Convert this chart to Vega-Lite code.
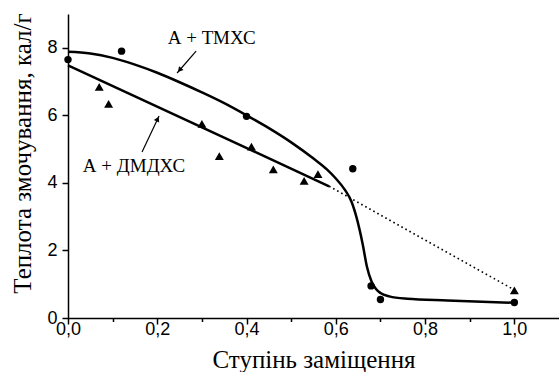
{
  "$schema": "https://vega.github.io/schema/vega-lite/v6.json",
  "width": 491,
  "height": 304,
  "autosize": {"type": "none"},
  "padding": {"left": 68, "top": 14, "right": 0, "bottom": 54},
  "background": "white",
  "config": {
    "view": {"stroke": null},
    "axis": {
      "grid": false,
      "domainColor": "black",
      "domainWidth": 1.5,
      "tickColor": "black",
      "tickWidth": 1.5,
      "labelColor": "black",
      "labelFont": "Liberation Sans, Arial, Helvetica, sans-serif",
      "labelFontSize": 18,
      "titleColor": "black",
      "titleFont": "Liberation Serif, Times New Roman, Times, serif",
      "titleFontSize": 25,
      "titleFontWeight": "normal"
    }
  },
  "datasets": {
    "fitA": [
      {"x": 0.0, "y": 7.88},
      {"x": 0.05, "y": 7.83},
      {"x": 0.1, "y": 7.7},
      {"x": 0.15, "y": 7.5},
      {"x": 0.2, "y": 7.26},
      {"x": 0.25, "y": 6.98},
      {"x": 0.3, "y": 6.68},
      {"x": 0.35, "y": 6.36},
      {"x": 0.4, "y": 6.0},
      {"x": 0.45, "y": 5.62},
      {"x": 0.5, "y": 5.2},
      {"x": 0.55, "y": 4.72},
      {"x": 0.58, "y": 4.4},
      {"x": 0.6, "y": 4.13},
      {"x": 0.62, "y": 3.8},
      {"x": 0.635, "y": 3.45},
      {"x": 0.647, "y": 2.95},
      {"x": 0.66, "y": 2.2},
      {"x": 0.67, "y": 1.5},
      {"x": 0.68, "y": 1.08},
      {"x": 0.69, "y": 0.86},
      {"x": 0.7, "y": 0.74},
      {"x": 0.72, "y": 0.64},
      {"x": 0.76, "y": 0.57},
      {"x": 0.85, "y": 0.52},
      {"x": 1.0, "y": 0.45}
    ],
    "fitB": [
      {"x": 0.0, "y": 7.48},
      {"x": 0.585, "y": 3.9}
    ],
    "fitBdot": [
      {"x": 0.585, "y": 3.9},
      {"x": 1.0, "y": 0.83}
    ],
    "ptsA": [
      {"x": 0.0, "y": 7.65},
      {"x": 0.12, "y": 7.9},
      {"x": 0.4, "y": 5.97},
      {"x": 0.638, "y": 4.42},
      {"x": 0.679, "y": 0.95},
      {"x": 0.7, "y": 0.55},
      {"x": 1.0, "y": 0.46}
    ],
    "ptsB": [
      {"x": 0.07, "y": 6.84},
      {"x": 0.091, "y": 6.34},
      {"x": 0.3, "y": 5.75},
      {"x": 0.339, "y": 4.79},
      {"x": 0.411, "y": 5.07},
      {"x": 0.46, "y": 4.4},
      {"x": 0.529, "y": 4.06},
      {"x": 0.56, "y": 4.26},
      {"x": 1.0, "y": 0.82}
    ],
    "arrows": [
      {"x": 0.287, "y": 7.904, "x2": 0.2444, "y2": 7.253, "hx": 0.25, "hy": 7.342, "angle": 221},
      {"x": 0.1659, "y": 4.914, "x2": 0.204, "y2": 5.98, "hx": 0.2007, "hy": 5.891, "angle": 25}
    ],
    "labels": [
      {"x": 0.322, "y": 8.3, "text": "А + ТМХС"},
      {"x": 0.148, "y": 4.5, "text": "А + ДМДХС"}
    ]
  },
  "layer": [
    {
      "data": {"name": "fitA"},
      "mark": {"type": "line", "color": "black", "strokeWidth": 2.5, "interpolate": "monotone"},
      "encoding": {
        "x": {
          "field": "x", "type": "quantitative",
          "scale": {"domain": [0, 1.1], "nice": false, "zero": false},
          "axis": {
            "title": "Ступінь заміщення",
            "values": [0, 0.1, 0.2, 0.3, 0.4, 0.5, 0.6, 0.7, 0.8, 0.9, 1.0],
            "labelExpr": "round(datum.value*10) % 2 == 0 ? replace(format(datum.value, '.1f'), '.', ',') : ''",
            "tickSize": {"condition": {"test": "round(datum.value*10) % 2 == 0", "value": 6}, "value": 3.5},
            "labelPadding": -4,
            "labelFlush": false,
            "labelOverlap": false,
            "titleBaseline": "alphabetic",
            "titleY": 49
          }
        },
        "y": {
          "field": "y", "type": "quantitative",
          "scale": {"domain": [0, 9], "nice": false, "zero": false},
          "axis": {
            "title": "Теплота змочування, кал/г",
            "values": [0, 1, 2, 3, 4, 5, 6, 7, 8],
            "labelExpr": "round(datum.value) % 2 == 0 ? format(datum.value, 'd') : ''",
            "tickSize": {"condition": {"test": "round(datum.value) % 2 == 0", "value": 6}, "value": 3.5},
            "labelPadding": 5,
            "labelFlush": false,
            "labelOverlap": false,
            "titleY": 139,
            "titleX": -33,
            "titleBaseline": "bottom"
          }
        }
      }
    },
    {
      "data": {"name": "fitB"},
      "mark": {"type": "line", "color": "black", "strokeWidth": 2.5},
      "encoding": {
        "x": {"field": "x", "type": "quantitative"},
        "y": {"field": "y", "type": "quantitative"}
      }
    },
    {
      "data": {"name": "fitBdot"},
      "mark": {"type": "line", "color": "black", "strokeWidth": 1.6, "strokeDash": [1.6, 3]},
      "encoding": {
        "x": {"field": "x", "type": "quantitative"},
        "y": {"field": "y", "type": "quantitative"}
      }
    },
    {
      "data": {"name": "ptsA"},
      "mark": {"type": "point", "shape": "circle", "filled": true, "color": "black", "opacity": 1, "size": 55},
      "encoding": {
        "x": {"field": "x", "type": "quantitative"},
        "y": {"field": "y", "type": "quantitative"}
      }
    },
    {
      "data": {"name": "ptsB"},
      "mark": {"type": "point", "shape": "triangle-up", "filled": true, "color": "black", "opacity": 1, "size": 80},
      "encoding": {
        "x": {"field": "x", "type": "quantitative"},
        "y": {"field": "y", "type": "quantitative"}
      }
    },
    {
      "data": {"name": "arrows"},
      "mark": {"type": "rule", "color": "black", "strokeWidth": 1.2},
      "encoding": {
        "x": {"field": "x", "type": "quantitative"},
        "y": {"field": "y", "type": "quantitative"},
        "x2": {"field": "x2"},
        "y2": {"field": "y2"}
      }
    },
    {
      "data": {"name": "arrows"},
      "mark": {"type": "point", "shape": "triangle-up", "filled": true, "color": "black", "opacity": 1, "size": 35},
      "encoding": {
        "x": {"field": "hx", "type": "quantitative"},
        "y": {"field": "hy", "type": "quantitative"},
        "angle": {"field": "angle", "type": "quantitative", "scale": null}
      }
    },
    {
      "data": {"name": "labels"},
      "mark": {"type": "text", "font": "Liberation Serif, Times New Roman, Times, serif", "fontSize": 19, "color": "black", "align": "center", "baseline": "middle"},
      "encoding": {
        "x": {"field": "x", "type": "quantitative"},
        "y": {"field": "y", "type": "quantitative"},
        "text": {"field": "text"}
      }
    }
  ]
}
